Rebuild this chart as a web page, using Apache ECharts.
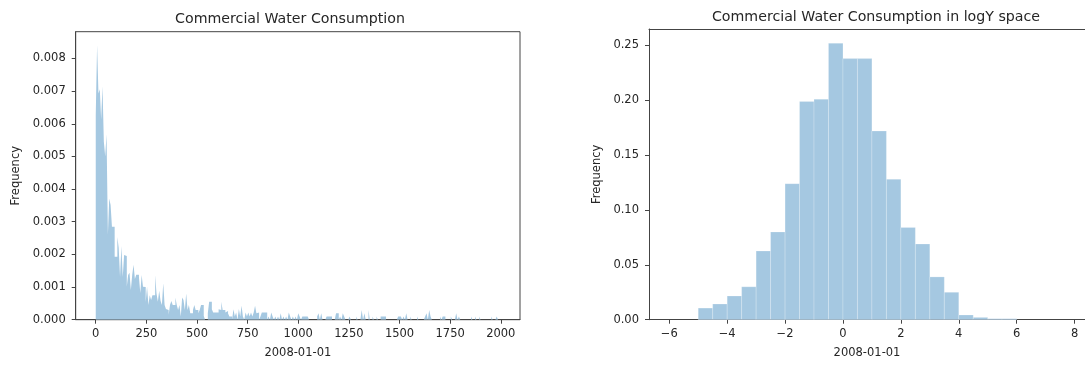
<!DOCTYPE html>
<html>
<head>
<meta charset="utf-8">
<title>Commercial Water Consumption</title>
<script src="https://cdn.jsdelivr.net/npm/echarts@6/dist/echarts.min.js"></script>
<style>
  html, body { margin: 0; padding: 0; background: #fff; }
  #main { width: 1085px; height: 365px; }
</style>
</head>
<body>
<div id="main"></div>
<script>
// left histogram: 300 bins of equal width from 0 to 2000, heights in units of 1e-3
var leftBinStart = 0;
var leftBinWidth = 2000 / 300;
var leftHeightsMilli = [
  6.27, 8.41, 6.93, 7.06, 6.13, 7.15, 5.45, 5.0, 5.68, 2.6, 3.71, 3.51, 2.85, 2.85, 1.93, 1.93, 2.53, 2.2, 1.31, 2.26,
  1.31, 1.98, 1.95, 1.01, 1.37, 1.44, 0.91, 1.37, 1.68, 1.25, 1.38, 1.38, 1.3, 0.82, 1.37, 1.01, 1.0, 0.54, 1.01, 0.45,
  0.75, 0.6, 0.75, 0.75, 1.37, 0.8, 0.55, 0.89, 0.58, 0.45, 1.12, 0.45, 0.33, 0.3, 0.15, 0.45, 0.57, 0.45, 0.45, 0.68,
  0.45, 0.3, 0.45, 0.1, 0.68, 0.6, 0.3, 0.8, 0.3, 0.45, 0.2, 0.2, 0.3, 0.45, 0.3, 0.3, 0.2, 0.3, 0.45, 0.45,
  0.11, 0, 0, 0.2, 0.55, 0.55, 0.32, 0.22, 0.22, 0.22, 0.22, 0.32, 0.3, 0.55, 0.3, 0.3, 0.22, 0.27, 0.19, 0.1,
  0.1, 0, 0.32, 0.1, 0.22, 0, 0.33, 0.1, 0.43, 0.1, 0, 0.22, 0.1, 0.22, 0.1, 0.22, 0.1, 0.22, 0.43, 0.2,
  0.22, 0, 0.1, 0.22, 0.22, 0.22, 0.22, 0, 0.1, 0, 0.22, 0.1, 0, 0.1, 0, 0.1, 0, 0.2, 0, 0.1,
  0, 0.1, 0, 0.22, 0.1, 0, 0.1, 0, 0.1, 0, 0.2, 0.1, 0, 0.1, 0.1, 0.1, 0.1, 0.1, 0, 0,
  0, 0, 0, 0, 0.1, 0.2, 0, 0.2, 0, 0, 0, 0.1, 0.1, 0.1, 0.1, 0, 0, 0, 0.2, 0.2,
  0, 0.1, 0, 0.2, 0.1, 0, 0, 0, 0.1, 0, 0, 0, 0, 0.1, 0, 0, 0, 0.3, 0, 0.2,
  0, 0, 0.3, 0, 0, 0.1, 0, 0, 0.1, 0, 0, 0.1, 0.1, 0.1, 0.1, 0, 0, 0, 0, 0,
  0, 0, 0, 0, 0.1, 0.1, 0.1, 0, 0.1, 0, 0.2, 0, 0, 0.1, 0, 0, 0, 0, 0.1, 0,
  0, 0, 0, 0, 0.1, 0.2, 0, 0.3, 0.1, 0, 0, 0, 0, 0, 0, 0.1, 0, 0.1, 0.1, 0,
  0, 0, 0, 0.1, 0, 0, 0, 0.2, 0, 0.1, 0, 0, 0, 0, 0, 0, 0, 0, 0.1, 0,
  0, 0.1, 0, 0, 0.1, 0, 0, 0, 0, 0, 0, 0, 0, 0.1, 0, 0, 0, 0.1, 0, 0
];
var leftXTicks = [0, 250, 500, 750, 1000, 1250, 1500, 1750, 2000];
var leftYTicks = [0, 0.001, 0.002, 0.003, 0.004, 0.005, 0.006, 0.007, 0.008];

// right histogram (log space): bins of 0.5 starting at -5
var rightBinStart = -5;
var rightBinWidth = 0.5;
var rightHeights = [
  0.0106, 0.0143, 0.0216, 0.030, 0.0626, 0.080, 0.124, 0.199, 0.201, 0.252, 0.238,
  0.238, 0.172, 0.128, 0.084, 0.069, 0.039, 0.025, 0.0043, 0.0021, 0.0009, 0.0009
];
var rightXTicks = [-6, -4, -2, 0, 2, 4, 6, 8];
var rightYTicks = [0, 0.05, 0.10, 0.15, 0.20, 0.25];

var barColor = '#a5c8e1';
var textColor = '#262626';
var spineColor = '#444';
var font = '"DejaVu Sans", sans-serif';

// bins as [left edge, right edge, height]
function toBins(start, width, heights, scale) {
  return heights.map(function (h, i) {
    return [start + i * width, start + (i + 1) * width, h * scale];
  });
}

// step outline points for the dense histogram (one filled shape, no seams)
function toSteps(start, width, heights, scale) {
  var pts = heights.map(function (h, i) {
    return [start + i * width, h * scale];
  });
  pts.push([start + heights.length * width, 0]);
  return pts;
}

function histItem(params, api) {
  var top = api.coord([api.value(0), api.value(2)]);
  var bottom = api.coord([api.value(1), 0]);
  return {
    type: 'rect',
    shape: { x: top[0], y: top[1], width: bottom[0] - top[0], height: bottom[1] - top[1] },
    style: { fill: barColor, stroke: 'rgba(255,255,255,0.35)', lineWidth: 0.6 }
  };
}

function xAxisCfg(gridIndex, min, max, ticks, fmt) {
  return {
    type: 'value', gridIndex: gridIndex, min: min, max: max,
    name: '2008-01-01', nameLocation: 'middle', nameGap: 27,
    nameTextStyle: { color: textColor, fontFamily: font, fontSize: 11.5 },
    axisLine: { show: true, onZero: false, lineStyle: { color: spineColor, width: 1 } },
    axisTick: { show: true, length: 4, customValues: ticks, lineStyle: { color: spineColor } },
    axisLabel: { customValues: ticks, color: textColor, fontFamily: font, fontSize: 11.5, margin: 8, formatter: fmt },
    splitLine: { show: false }
  };
}

function yAxisCfg(gridIndex, max, ticks, fmt, gap) {
  return {
    type: 'value', gridIndex: gridIndex, min: 0, max: max,
    name: 'Frequency', nameLocation: 'middle', nameGap: gap,
    nameTextStyle: { color: textColor, fontFamily: font, fontSize: 11.5 },
    axisLine: { show: true, onZero: false, lineStyle: { color: spineColor, width: 1 } },
    axisTick: { show: true, length: 4, customValues: ticks, lineStyle: { color: spineColor } },
    axisLabel: { customValues: ticks, color: textColor, fontFamily: font, fontSize: 11.5, margin: 10, formatter: fmt },
    splitLine: { show: false }
  };
}

var myChart = echarts.init(document.getElementById('main'), null, { renderer: 'canvas' });
var option = {
  backgroundColor: '#fff',
  animation: false,
  title: [
    {
      text: 'Commercial Water Consumption', left: 285, top: 7, textAlign: 'center',
      textStyle: { color: textColor, fontFamily: font, fontSize: 14.2, fontWeight: 'normal' }
    },
    {
      text: 'Commercial Water Consumption in logY space', left: 871, top: 5, textAlign: 'center',
      textStyle: { color: textColor, fontFamily: font, fontSize: 14.2, fontWeight: 'normal' }
    }
  ],
  grid: [
    { left: 75.7, top: 31.7, width: 444.3, height: 288, show: true, borderColor: spineColor, borderWidth: 1, containLabel: false },
    // the right frame runs past the picture's edge, so only left, bottom and top spines show
    { left: 649, top: 29, width: 436, height: 290.7, show: false, containLabel: false }
  ],
  xAxis: [
    xAxisCfg(0, -99, 2095, leftXTicks, function (v) { return String(v); }),
    xAxisCfg(1, -6.7, 8.36, rightXTicks, function (v) { return v < 0 ? '\u2212' + Math.abs(v) : String(v); }),
    {
      type: 'value', gridIndex: 1, position: 'top', min: -6.7, max: 8.36,
      axisLine: { show: true, onZero: false, lineStyle: { color: spineColor, width: 1 } },
      axisTick: { show: false }, axisLabel: { show: false }, splitLine: { show: false }
    }
  ],
  yAxis: [
    yAxisCfg(0, 0.00882, leftYTicks, function (v) { return v.toFixed(3); }, 54),
    yAxisCfg(1, 0.265, rightYTicks, function (v) { return v.toFixed(2); }, 46)
  ],
  series: [
    {
      type: 'line', xAxisIndex: 0, yAxisIndex: 0,
      step: 'end', symbol: 'none', silent: true,
      lineStyle: { width: 0 },
      areaStyle: { color: barColor, opacity: 1 },
      data: toSteps(leftBinStart, leftBinWidth, leftHeightsMilli, 0.001)
    },
    {
      type: 'custom', xAxisIndex: 1, yAxisIndex: 1,
      renderItem: histItem,
      encode: { x: [0, 1], y: 2 },
      data: toBins(rightBinStart, rightBinWidth, rightHeights, 1)
    }
  ]
};
myChart.setOption(option);
</script>
</body>
</html>
